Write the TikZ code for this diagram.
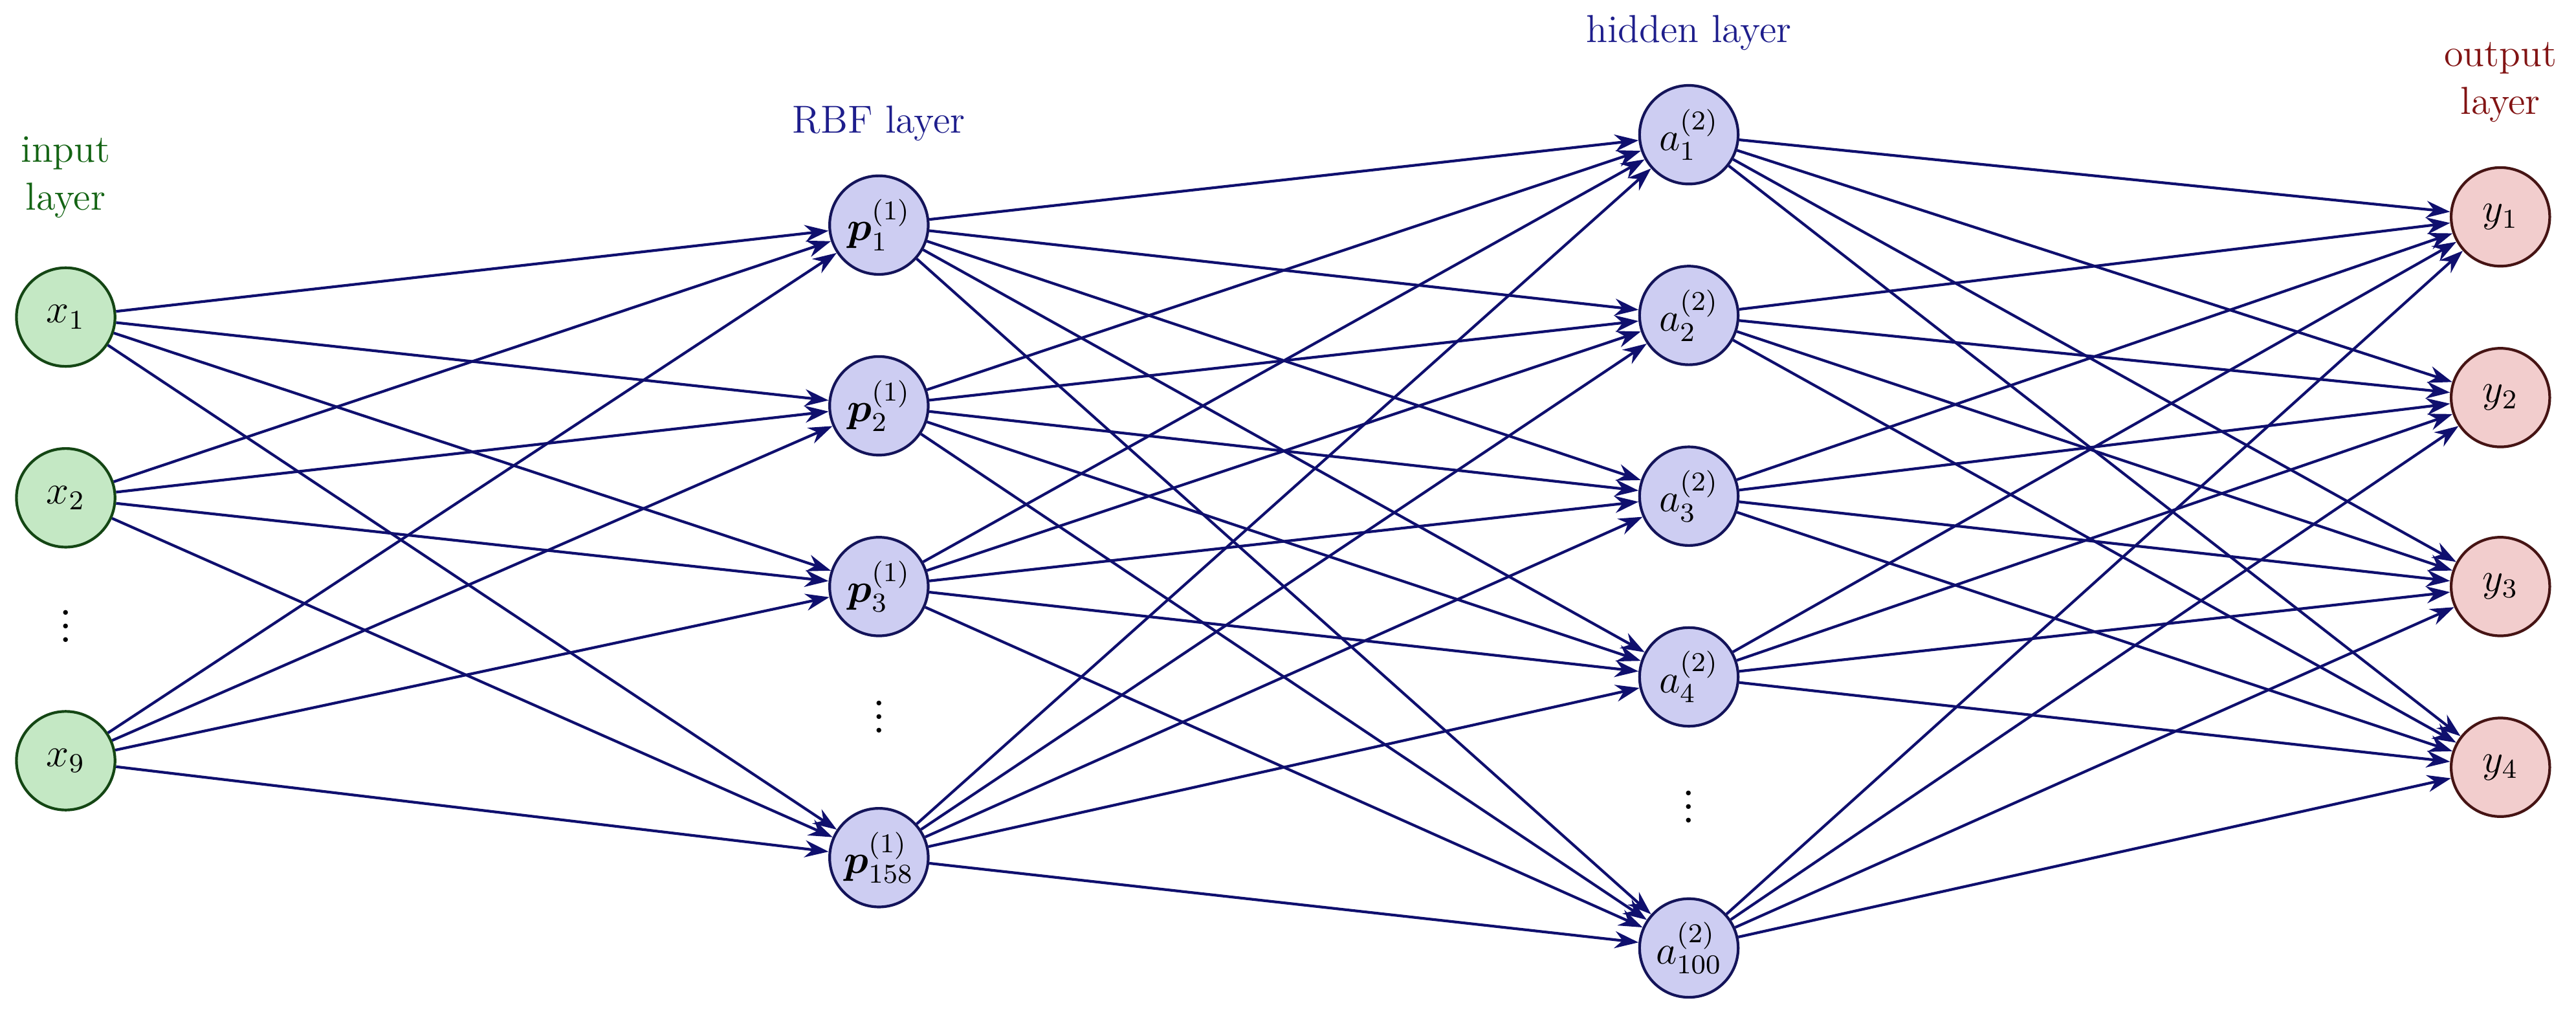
\documentclass[tikz,border=0pt]{standalone}
\usepackage{amsmath,bm}
\usetikzlibrary{arrows.meta}
\definecolor{ing}{RGB}{196,232,196}\definecolor{ind}{RGB}{20,70,20}
\definecolor{hidf}{RGB}{205,205,242}\definecolor{hidd}{RGB}{20,20,90}
\definecolor{outf}{RGB}{242,205,205}\definecolor{outd}{RGB}{70,20,20}
\definecolor{edge}{RGB}{15,15,110}
\definecolor{lgreen}{RGB}{20,100,20}\definecolor{lblue}{RGB}{30,30,140}\definecolor{lred}{RGB}{130,20,20}
\begin{document}
\begin{tikzpicture}[x=0.017cm,y=-0.017cm,font=\fontsize{11.5}{14}\selectfont,
 neu/.style={circle,minimum size=1.02cm,inner sep=0pt,line width=0.8pt},
 inpn/.style={neu,fill=ing,draw=ind},
 hidn/.style={neu,fill=hidf,draw=hidd},
 outn/.style={neu,fill=outf,draw=outd},
 con/.style={draw=edge,line width=0.8pt,-{Stealth[length=7pt,width=5pt]}},
 dots/.style={font=\Large}]
\useasboundingbox (0,0) rectangle (1568,618);
\node[inpn] (i1) at (40,193) {$x_1$};
\node[inpn] (i2) at (40,303) {$x_2$};
\node[inpn] (i3) at (40,463) {$x_9$};
\node[dots] (di) at (40,375) {$\vdots$};
\node[hidn] (r1) at (535,137) {$\bm{p}_1^{(1)}$};
\node[hidn] (r2) at (535,247) {$\bm{p}_2^{(1)}$};
\node[hidn] (r3) at (535,357) {$\bm{p}_3^{(1)}$};
\node[hidn] (r4) at (535,522) {$\bm{p}_{158}^{(1)}$};
\node[dots] (dr) at (535,430) {$\vdots$};
\node[hidn] (h1) at (1028,82) {$a_1^{(2)}$};
\node[hidn] (h2) at (1028,192) {$a_2^{(2)}$};
\node[hidn] (h3) at (1028,302) {$a_3^{(2)}$};
\node[hidn] (h4) at (1028,412) {$a_4^{(2)}$};
\node[hidn] (h5) at (1028,577) {$a_{100}^{(2)}$};
\node[dots] (dh) at (1028,485) {$\vdots$};
\node[outn] (o1) at (1522,132) {$y_1$};
\node[outn] (o2) at (1522,242) {$y_2$};
\node[outn] (o3) at (1522,357) {$y_3$};
\node[outn] (o4) at (1522,467) {$y_4$};
\node[lgreen,align=center] (li) at (40,108) {input\\layer};
\node[lblue] (lr) at (535,75) {RBF layer};
\node[lblue] (lh) at (1028,20) {hidden layer};
\node[lred,align=center] (lo) at (1522,50) {output\\layer};
\foreach \a in {1,2,3}\foreach \b in {1,...,4}\draw[con] (i\a) -- (r\b);
\foreach \a in {1,...,4}\foreach \b in {1,...,5}\draw[con] (r\a) -- (h\b);
\foreach \a in {1,...,5}\foreach \b in {1,...,4}\draw[con] (h\a) -- (o\b);
\end{tikzpicture}
\end{document}
